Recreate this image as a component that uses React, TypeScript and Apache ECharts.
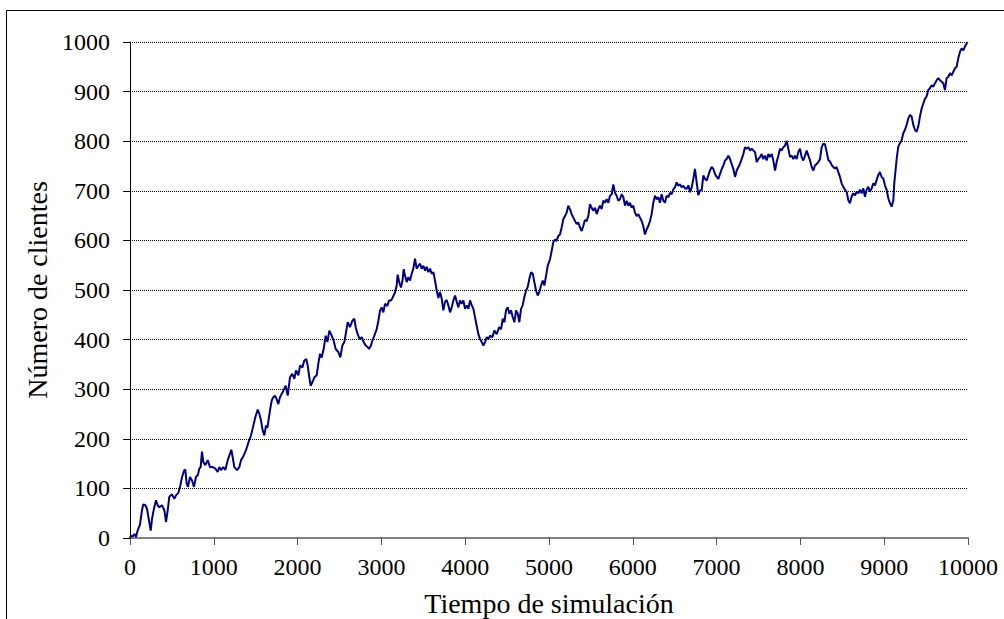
import React, { useEffect, useRef } from "react";
import * as echarts from "echarts";

const xTitle = "Tiempo de simulación";
const yTitle = "Número de clientes";

const times: number[] = [
  0, 12, 32, 52, 72, 91, 119, 143, 159, 183, 203, 223, 247, 263, 282, 310, 330, 350, 382, 410, 430, 450, 469, 501, 529, 549, 577, 601, 621, 648, 660, 676, 692, 716, 740, 764, 788, 808, 828, 843, 859, 875, 899, 927, 955, 987, 1018, 1046, 1066, 1086, 1114, 1138, 1166, 1193, 1209, 1225, 1245, 1277, 1305, 1325, 1353, 1384, 1416, 1444, 1464, 1496, 1524, 1544, 1563, 1583, 1603, 1623, 1640, 1655, 1675, 1691,
  1710, 1730, 1750, 1770, 1790, 1830, 1858, 1882, 1909, 1937, 1961, 1981, 2009, 2029, 2057, 2080, 2104, 2120, 2140, 2156, 2176, 2200, 2228, 2247, 2267, 2287, 2311, 2335, 2355, 2379, 2407, 2430, 2454, 2486, 2510, 2534, 2558, 2578, 2598, 2625, 2653, 2677, 2693, 2717, 2741, 2765, 2788, 2812, 2836, 2852, 2876, 2892, 2916, 2944, 2964, 2983, 3003, 3023, 3043, 3071, 3091, 3115, 3135, 3162, 3182, 3194, 3214, 3234, 3254, 3266, 3282, 3302,
  3322, 3342, 3362, 3381, 3401, 3421, 3441, 3461, 3481, 3501, 3521, 3541, 3560, 3580, 3600, 3620, 3640, 3660, 3680, 3700, 3720, 3739, 3759, 3779, 3799, 3819, 3839, 3859, 3879, 3899, 3918, 3938, 3958, 3978, 3998, 4018, 4038, 4058, 4078, 4098, 4117, 4137, 4157, 4177, 4197, 4217, 4237, 4257, 4277, 4296, 4324, 4348, 4376, 4404, 4428, 4448, 4468, 4487, 4507, 4527, 4547, 4567, 4587, 4607, 4627, 4646, 4666, 4686, 4706, 4726, 4746, 4766, 4786, 4806, 4825, 4845, 4865, 4885, 4905, 4925, 4945, 4965, 4985,
  5012, 5032, 5051, 5071, 5091, 5111, 5131, 5151, 5171, 5191, 5211, 5230, 5250, 5270, 5290, 5310, 5330, 5350, 5370, 5390, 5409, 5429, 5449, 5469, 5489, 5509, 5529, 5549, 5569, 5589, 5608, 5628, 5648, 5668, 5688, 5708, 5728, 5748, 5767, 5787, 5807, 5827, 5847, 5867, 5887, 5907, 5927, 5947, 5966, 5986, 6006, 6026, 6046, 6066, 6086, 6106, 6125, 6145, 6165, 6185, 6205, 6225, 6245, 6265, 6285, 6305, 6324, 6344, 6364, 6384, 6404, 6424, 6444, 6464, 6483, 6503, 6523, 6543, 6563, 6583, 6603, 6623,
  6643, 6663, 6683, 6703, 6722, 6742, 6762, 6782, 6802, 6822, 6842, 6862, 6882, 6902, 6921, 6941, 6961, 6981, 7001, 7021, 7041, 7061, 7081, 7100, 7120, 7140, 7160, 7180, 7200, 7220, 7240, 7260, 7279, 7299, 7319, 7339, 7359, 7379, 7399, 7419, 7439, 7459, 7478, 7498, 7518, 7538, 7558, 7578, 7598, 7618, 7637, 7657, 7677, 7697, 7717, 7737, 7757, 7776, 7796, 7816, 7836, 7856, 7876, 7896, 7916, 7936, 7955, 7975, 7995, 8015, 8035, 8055, 8075, 8095, 8115, 8135, 8155, 8174, 8194, 8214, 8234, 8254, 8274, 8293,
  8313, 8333, 8353, 8373, 8392, 8412, 8432, 8452, 8472, 8492, 8512, 8532, 8552, 8572, 8591, 8611, 8631, 8651, 8671, 8691, 8711, 8731, 8751, 8770, 8790, 8810, 8830, 8850, 8870, 8890, 8910, 8930, 8949, 8969, 8989, 9009, 9029, 9049, 9069, 9089, 9109, 9120, 9136, 9152, 9168, 9188, 9208, 9228, 9248, 9268, 9288, 9307, 9327, 9347, 9367, 9387, 9407, 9427, 9447, 9467, 9487, 9506, 9526, 9546, 9566, 9586, 9606, 9626, 9646, 9666, 9686, 9705, 9725, 9745, 9765, 9785, 9805, 9825, 9845, 9864, 9884, 9904, 9924, 9944, 9964, 9984, 9996,
];

const clients: number[] = [
  0, 5, 3, 8, 2, 15, 27, 56, 68, 66, 59, 39, 15, 39, 56, 76, 66, 62, 66, 56, 32, 56, 83, 88, 79, 86, 91, 106, 123, 137, 138, 110, 103, 123, 116, 103, 124, 126, 140, 143, 174, 153, 147, 157, 143, 143, 140, 133, 143, 137, 143, 137, 157, 170, 178, 163, 143, 137, 143, 157, 165, 177, 194, 207, 221, 244, 259, 250, 237, 217, 207, 227, 222, 240, 262, 277,
  284, 287, 280, 270, 284, 297, 307, 287, 324, 331, 321, 338, 328, 348, 344, 358, 361, 348, 324, 307, 314, 324, 328, 351, 371, 364, 381, 408, 395, 418, 408, 398, 381, 375, 364, 388, 395, 415, 435, 425, 438, 442, 425, 411, 401, 405, 395, 388, 385, 381, 388, 398, 408, 421, 438, 458, 465, 455, 472, 468, 479, 479, 485, 495, 509, 531, 515, 505, 522, 542, 529, 516,
  526, 519, 533, 543, 563, 543, 549, 553, 543, 549, 539, 547, 536, 543, 533, 536, 519, 499, 484, 496, 482, 459, 476, 480, 469, 455, 465, 479, 489, 476, 465, 479, 472, 479, 462, 469, 462, 479, 469, 462, 445, 428, 411, 401, 395, 388, 395, 405, 401, 408, 405, 418, 411, 425, 421, 442, 435, 459, 465, 452, 459, 445, 435, 459, 452, 435, 462, 469, 486, 499, 506, 523, 536, 533, 516, 499, 489, 496, 509, 519, 509, 529, 549,
  562, 579, 596, 602, 599, 609, 612, 626, 643, 649, 656, 670, 663, 653, 646, 639, 633, 636, 626, 619, 629, 641, 639, 649, 673, 666, 660, 666, 653, 663, 670, 663, 680, 676, 683, 676, 690, 693, 713, 696, 690, 680, 683, 693, 687, 670, 680, 670, 676, 666, 670, 656, 649, 653, 646, 639, 629, 612, 622, 629, 639, 653, 676, 690, 683, 687, 676, 693, 680, 676, 690, 687, 696, 693, 703, 707, 717, 710, 713, 707, 710, 705,
  704, 711, 697, 707, 724, 744, 717, 691, 701, 701, 731, 724, 721, 731, 741, 748, 744, 734, 728, 724, 734, 744, 751, 761, 764, 771, 764, 754, 744, 728, 741, 748, 754, 764, 774, 788, 785, 788, 781, 785, 781, 778, 758, 764, 768, 774, 764, 771, 761, 774, 768, 774, 761, 741, 758, 771, 785, 781, 788, 791, 801, 785, 768, 771, 764, 771, 764, 778, 785, 768, 761, 771, 781, 771, 761, 748, 741, 751, 754, 758, 764, 788, 795, 794,
  779, 762, 759, 752, 748, 745, 748, 738, 728, 715, 708, 702, 698, 681, 675, 688, 695, 691, 698, 695, 702, 695, 705, 688, 702, 708, 698, 705, 715, 711, 722, 732, 738, 728, 725, 711, 702, 685, 675, 668, 681, 715, 742, 769, 789, 796, 802, 816, 823, 833, 846, 853, 850, 833, 823, 819, 830, 850, 866, 876, 886, 890, 903, 907, 913, 910, 917, 923, 927, 923, 920, 917, 903, 927, 930, 937, 933, 940, 947, 950, 967, 980, 987, 983, 991, 997, 1000,
];

const xTickInterval = 1000;
const yTickInterval = 100;

export default function App() {
  const ref = useRef<HTMLDivElement>(null);
  useEffect(() => {
    if (!ref.current) return;
    const chart = echarts.init(ref.current, null, { renderer: "svg" });
    const n = Math.min(times.length, clients.length);
    const data: [number, number][] = [];
    for (let i = 0; i < n; i++) data.push([times[i], clients[i]]);
    const font = "'Liberation Serif', 'Times New Roman', serif";
    chart.setOption({
      animation: false,
      backgroundColor: "#ffffff",
      grid: { left: 130, right: 36, top: 42, bottom: 81, containLabel: false, outerBoundsMode: "none" },
      graphic: [
        {
          type: "rect",
          silent: true,
          shape: { x: 6.5, y: 10.5, width: 1200, height: 800 },
          style: { fill: "none", stroke: "#000", lineWidth: 1 },
          z: -10,
        },
      ],
      xAxis: {
        type: "value",
        min: 0,
        max: 10000,
        interval: xTickInterval,
        name: xTitle,
        nameLocation: "middle",
        nameGap: 51,
        nameTextStyle: { fontFamily: font, fontSize: 28, color: "#000" },
        axisLine: { show: true, lineStyle: { color: "#808080", width: 2 } },
        axisTick: { show: true, inside: false, length: 7, lineStyle: { color: "#555", width: 1 } },
        axisLabel: { fontFamily: font, fontSize: 24, color: "#000", margin: 17, formatter: (v: number) => String(v) },
        splitLine: { show: false },
      },
      yAxis: {
        type: "value",
        min: 0,
        max: 1000,
        interval: yTickInterval,
        name: yTitle,
        nameLocation: "middle",
        nameGap: 61,
        nameTextStyle: { fontFamily: font, fontSize: 28, color: "#000" },
        axisLine: { show: true, lineStyle: { color: "#000", width: 1 } },
        axisTick: { show: true, inside: false, length: 7, lineStyle: { color: "#000", width: 1 } },
        axisLabel: { fontFamily: font, fontSize: 24, color: "#000", margin: 20, formatter: (v: number) => String(v) },
        splitLine: { show: true, lineStyle: { color: "#000", width: 1, type: [1, 1] } },
      },
      series: [
        {
          type: "line",
          data,
          showSymbol: false,
          symbol: "none",
          lineStyle: { color: "#000080", width: 2 },
          itemStyle: { color: "#000080" },
        },
      ],
    });
    return () => chart.dispose();
  }, []);
  return (
    <div
      ref={ref}
      style={{ position: "absolute", left: 0, top: 0, width: 1004, height: 619, background: "#fff" }}
    />
  );
}
